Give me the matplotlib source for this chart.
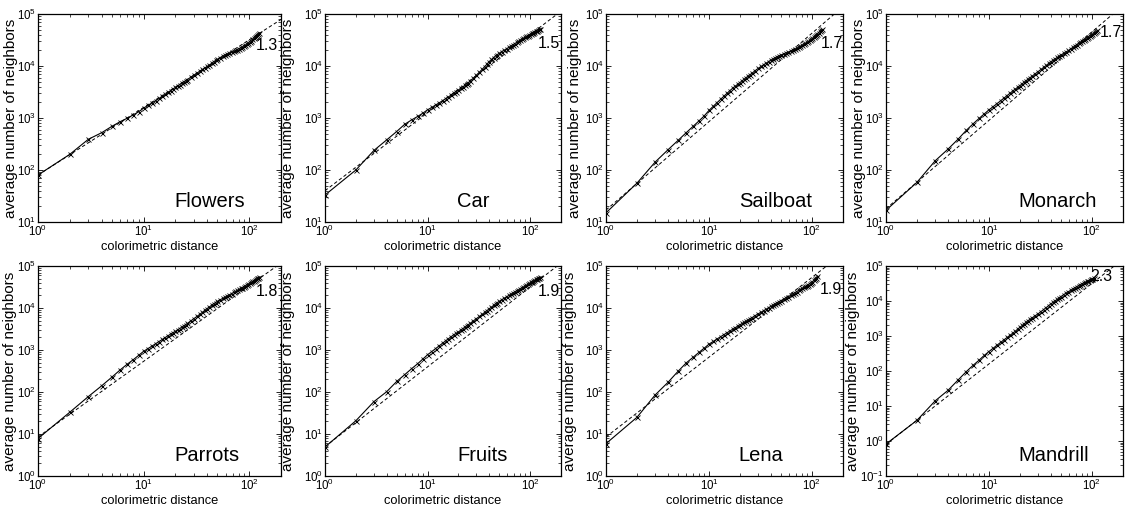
import matplotlib
matplotlib.use("Agg")
import matplotlib.pyplot as plt
from matplotlib.ticker import LogLocator, NullFormatter

plt.rcParams['font.family'] = ['Liberation Sans', 'DejaVu Sans']

# colorimetric distances at which the average neighbour count is plotted
dist = list(range(1, 26)) + list(range(26, 51, 2)) + list(range(53, 126, 3))

names = ['Flowers', 'Car', 'Sailboat', 'Monarch', 'Parrots', 'Fruits', 'Lena', 'Mandrill']
slopes = [1.3, 1.5, 1.7, 1.7, 1.8, 1.9, 1.9, 2.3]
fit_c = [80, 40, 17, 18, 8.5, 5, 8.5, 0.8]
y_min = [10, 10, 10, 10, 1, 1, 1, 0.1]

flowers = [80, 200, 390, 520, 690, 850, 990, 1150, 1320, 1550,
           1750, 1950, 2150, 2380, 2600, 2850, 3100, 3350, 3600, 3900,
           4150, 4400, 4680, 4950, 5220,
           5500, 6100, 6700, 7300, 7950, 8600, 9200, 9800, 10500, 11200, 12000, 12800, 13500,
           14500, 15500, 16300, 17100, 17800, 18500, 19200, 19900, 20700, 21500,
           22400, 23300, 24300, 25300, 26500, 27800, 29300, 30900, 32700, 34500,
           36300, 38100, 39900, 41700, 43500]
car = [33, 100, 238, 380, 550, 760, 920, 1070, 1240, 1435,
       1600, 1780, 1960, 2150, 2350, 2550, 2770, 3000, 3230, 3470,
       3700, 3950, 4220, 4500, 4800,
       5100, 5850, 6700, 7600, 8600, 9700, 10900, 12200, 13400, 14500, 15600, 16600, 17600,
       19000, 20200, 21500, 22800, 24200, 25600, 27000, 28500, 30000, 31600,
       33000, 34400, 35800, 37100, 38500, 39800, 41100, 42500, 43900, 45300,
       46700, 48100, 49500, 50900, 52300]
sailboat = [15, 56, 142, 245, 370, 520, 690, 880, 1100, 1400,
            1680, 1980, 2300, 2640, 3000, 3370, 3750, 4100, 4450, 4800,
            5200, 5600, 6000, 6400, 6800,
            7200, 8100, 9000, 9800, 10600, 11400, 12200, 13000, 13700, 14400, 15100, 15700, 16300,
            17100, 17900, 18600, 19400, 20200, 21000, 22000, 23000, 24100, 25200,
            26300, 27400, 28500, 29700, 31000, 32500, 34200, 36000, 37900, 39800,
            41900, 44000, 46300, 48500, 50500]
monarch = [16.8, 58, 150, 252, 390, 575, 770, 980, 1200, 1435,
           1660, 1900, 2150, 2420, 2700, 3000, 3300, 3600, 3900, 4200,
           4550, 4900, 5250, 5600, 5950,
           6300, 7050, 7800, 8600, 9450, 10300, 11200, 12100, 12950, 13800, 14650, 15500, 16300,
           17500, 18700, 19900, 21300, 22700, 24200, 25700, 27200, 28700, 30200,
           31700, 33200, 34800, 36500, 38000, 39600, 41200, 42900, 44600, 46500,
           48500]
parrots = [7.8, 33, 78, 140, 225, 336, 460, 590, 750, 930,
           1080, 1240, 1410, 1590, 1780, 1980, 2180, 2390, 2590, 2790,
           3020, 3250, 3500, 3750, 4020,
           4300, 4930, 5600, 6300, 7050, 7900, 8800, 9700, 10650, 11600, 12550, 13500, 14450,
           15700, 16900, 18100, 19400, 20700, 22000, 23400, 24800, 26300, 27700,
           29200, 30700, 32300, 33900, 35600, 37300, 39100, 40900, 42800, 44700,
           46700, 48700, 50800, 52900, 55000]
fruits = [4.9, 20.7, 59, 102, 178, 260, 360, 470, 610, 770,
          920, 1080, 1260, 1450, 1650, 1860, 2080, 2300, 2500, 2700,
          2950, 3200, 3470, 3750, 4020,
          4300, 4950, 5600, 6300, 7050, 7850, 8700, 9600, 10550, 11500, 12500, 13500, 14450,
          15800, 17200, 18500, 19900, 21300, 22800, 24200, 25700, 27100, 28600,
          30100, 31700, 33300, 35000, 36900, 38700, 40600, 42400, 44200, 46000,
          47800, 49600, 51400, 53200, 55000]
lena = [5.9, 25, 85, 170, 310, 490, 670, 880, 1110, 1380,
        1600, 1840, 2080, 2330, 2580, 2850, 3130, 3410, 3700, 4000,
        4300, 4600, 4900, 5200, 5520,
        5850, 6550, 7250, 7950, 8650, 9400, 10200, 11000, 11800, 12600, 13400, 14200, 15000,
        16200, 17400, 18700, 20000, 21500, 23000, 24600, 26200, 27800, 29500,
        31000, 32600, 34300, 36100, 38000, 40200, 42600, 45300, 48500, 52500,
        58000]
mandrill = [0.82, 3.9, 14, 28, 55, 95, 145, 203, 280, 360,
            450, 550, 660, 780, 910, 1050, 1200, 1370, 1570, 1780,
            2000, 2250, 2500, 2750, 3000,
            3250, 3770, 4300, 5000, 5700, 6500, 7400, 8300, 9250, 10200, 11200, 12300, 13400,
            15100, 16800, 18500, 20200, 22000, 23800, 25600, 27400, 29200, 31000,
            32800, 34600, 36400, 38200, 40000, 41800, 43500, 45000]
values = [flowers, car, sailboat, monarch, parrots, fruits, lena, mandrill]

# axes boxes in pixels: left, width for each column; top, bottom for each row
col_box = [(38, 243), (325, 236), (606, 237), (886, 237)]
row_box = [(14, 222), (266, 476)]
slope_pos = [(0.895, 0.85), (0.9, 0.86), (0.905, 0.86), (0.9, 0.91),
             (0.895, 0.88), (0.9, 0.88), (0.9, 0.89), (0.86, 0.95)]
ylabel_dx = [-27, -37, -31, -27, -28, -37, -36, -33]

W, H = 1125, 508
fig = plt.figure(figsize=(W / 100, H / 100), dpi=100)

for i in range(8):
    r, c = divmod(i, 4)
    left, width = col_box[c]
    top, bottom = row_box[r]
    ax = fig.add_axes([left / W, 1 - bottom / H, width / W, (bottom - top) / H])

    vals = values[i]
    xs = dist[:len(vals)]
    ax.loglog(xs, vals, '-', color='black', lw=0.8, marker='x', ms=3.6, mew=0.6)
    fx = [1, 200]
    ax.loglog(fx, [fit_c[i] * v ** slopes[i] for v in fx], color='black',
              lw=0.7, ls=(0, (3.5, 2.5)))

    ax.set_xlim(1, 200)
    ax.set_ylim(y_min[i], 1e5)
    ax.xaxis.set_major_locator(LogLocator(base=10, numticks=10))
    ax.yaxis.set_major_locator(LogLocator(base=10, numticks=12))
    ax.xaxis.set_minor_locator(LogLocator(base=10, subs=range(2, 10), numticks=20))
    ax.yaxis.set_minor_locator(LogLocator(base=10, subs=range(2, 10), numticks=20))
    ax.xaxis.set_minor_formatter(NullFormatter())
    ax.yaxis.set_minor_formatter(NullFormatter())
    ax.tick_params(which='both', direction='in', top=True, right=True, labelsize=8.3, pad=1.5)
    ax.tick_params(which='major', length=3.5, width=0.6)
    ax.tick_params(which='minor', length=2, width=0.5)
    for s in ax.spines.values():
        s.set_linewidth(0.9)

    ax.set_xlabel('colorimetric distance', fontsize=9.3, labelpad=1)
    ax.set_ylabel('average number of neighbors', fontsize=11, va='center')
    ax.yaxis.set_label_coords(ylabel_dx[i] / width, 0.5)

    ax.text(0.56, 0.072, names[i], transform=ax.transAxes, fontsize=14.5,
            ha='left', va='baseline')
    sx, sy = slope_pos[i]
    ax.text(sx, sy, f'{slopes[i]}', transform=ax.transAxes, fontsize=11.5,
            ha='left', va='center')

fig.savefig('out.png', dpi=100)
